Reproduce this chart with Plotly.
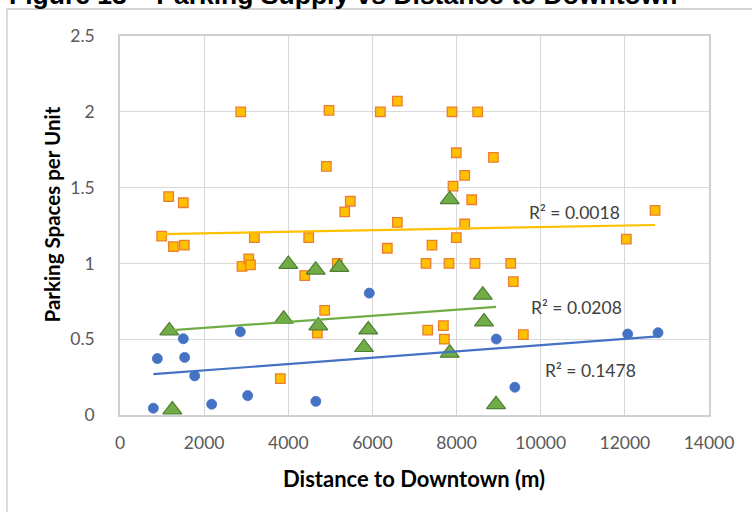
import numpy as np
import plotly.graph_objects as go

# Orange squares (yellow fill, orange outline)
orange_x = [2870, 1157, 1505, 991, 1268, 1529, 3193, 4485, 2900, 3060, 3100, 4390,
            4968, 6592, 6188, 7892, 8502, 7994, 8874, 4904, 8193, 7915, 5474, 5341,
            8360, 6592, 8193, 7994, 6354, 7416, 7274, 7820, 8438, 9287, 5165, 9349,
            12717, 12035, 4865, 4690, 7314, 7686, 7710, 9587, 3811]
orange_y = [2.00, 1.44, 1.40, 1.18, 1.11, 1.12, 1.17, 1.17, 0.98, 1.03, 0.99, 0.92,
            2.01, 2.07, 2.00, 2.00, 2.00, 1.73, 1.70, 1.64, 1.58, 1.51, 1.41, 1.34,
            1.42, 1.27, 1.26, 1.17, 1.10, 1.12, 1.00, 1.00, 1.00, 1.00, 1.00, 0.88,
            1.35, 1.16, 0.69, 0.54, 0.56, 0.59, 0.50, 0.53, 0.24]

# Blue circles
blue_x = [792, 887, 1505, 1537, 1775, 2860, 2179, 3035, 4655, 5926, 8945, 9385,
          12068, 12788]
blue_y = [0.045, 0.372, 0.503, 0.380, 0.258, 0.549, 0.071, 0.128, 0.090, 0.804,
          0.501, 0.183, 0.534, 0.543]

# Green triangles
green_x = [1172, 1244, 4001, 4651, 5213, 3891, 4714, 5902, 5800, 7837, 8622, 8652,
           8938, 7837]
green_y = [0.556, 0.034, 0.995, 0.957, 0.975, 0.633, 0.589, 0.562, 0.446, 0.409,
           0.791, 0.615, 0.069, 1.422]

# Fit statistics shown next to each trendline
r2_orange = "R² = 0.0018"
r2_green = "R² = 0.0208"
r2_blue = "R² = 0.1478"

x_ticks = [0, 2000, 4000, 6000, 8000, 10000, 12000, 14000]
y_ticks = [0, 0.5, 1, 1.5, 2, 2.5]

TICK_FONT = dict(family="Lato", size=17.5, color="#595959")
R2_FONT = dict(family="Lato", size=17.5, color="#404040")


def trend(xs, ys):
    slope, intercept = np.polyfit(xs, ys, 1)
    x0, x1 = min(xs), max(xs)
    return [x0, x1], [intercept + slope * x0, intercept + slope * x1]


fig = go.Figure()

fig.add_trace(go.Scatter(
    x=orange_x, y=orange_y, mode="markers", name="orange",
    marker=dict(symbol="square", size=9.5, color="#FFC000",
                line=dict(color="#ED7D31", width=1.3))))
fig.add_trace(go.Scatter(
    x=blue_x, y=blue_y, mode="markers", name="blue",
    marker=dict(symbol="circle", size=10, color="#4472C4",
                line=dict(color="#4472C4", width=0.8))))
fig.add_trace(go.Scatter(
    x=green_x, y=green_y, mode="markers", name="green",
    marker=dict(symbol="triangle-up", size=16.5, color="#70AD47",
                line=dict(color="#507E32", width=1.2))))

for xs, ys, col in [(orange_x, orange_y, "#FFC000"),
                    (green_x, green_y, "#70AD47"),
                    (blue_x, blue_y, "#4472C4")]:
    tx, ty = trend(xs, ys)
    fig.add_trace(go.Scatter(x=tx, y=ty, mode="lines",
                             line=dict(color=col, width=2.2),
                             hoverinfo="skip"))

annotations = [
    dict(text=r2_orange, x=10806, y=1.334, xref="x", yref="y",
         showarrow=False, font=R2_FONT),
    dict(text=r2_green, x=10851, y=0.709, xref="x", yref="y",
         showarrow=False, font=R2_FONT),
    dict(text=r2_blue, x=11172, y=0.293, xref="x", yref="y",
         showarrow=False, font=R2_FONT),
    dict(text="<b>Distance to Downtown (m)</b>", x=0.4987, y=-0.1675,
         xref="paper", yref="paper", xanchor="center", yanchor="middle",
         showarrow=False, font=dict(family="Lato", size=22, color="#000000")),
    dict(text="<b>Parking Spaces per Unit</b>", x=-0.1155, y=0.529,
         xref="paper", yref="paper", xanchor="center", yanchor="middle",
         textangle=-90, showarrow=False,
         font=dict(family="Lato", size=20.5, color="#000000")),
    dict(text="<b>Figure 13 – Parking Supply vs Distance to Downtown</b>",
         x=-0.1919, y=1.107, xref="paper", yref="paper",
         xanchor="left", yanchor="middle", showarrow=False,
         font=dict(family="Liberation Sans", size=26.5, color="#000000")),
]

fig.update_layout(
    width=752, height=512,
    margin=dict(l=120, r=43, t=36, b=97, pad=0),
    paper_bgcolor="white", plot_bgcolor="white",
    showlegend=False,
    annotations=annotations,
    shapes=[dict(type="rect", xref="paper", yref="paper",
                 x0=-0.1919, x1=1.09, y0=-0.28, y1=1.0712,
                 line=dict(color="#C8C8C8", width=1.3), fillcolor="rgba(0,0,0,0)",
                 layer="below")],
)

fig.update_xaxes(
    range=[0, 14000], tickvals=x_ticks, ticktext=[str(v) for v in x_ticks],
    showgrid=True, gridcolor="#D9D9D9", gridwidth=1.3,
    showline=True, linecolor="#D0D0D0", linewidth=1.5, mirror=True,
    zeroline=False, ticks="outside", ticklen=11, tickcolor="rgba(0,0,0,0)",
    tickfont=TICK_FONT, fixedrange=True)
fig.update_yaxes(
    range=[0, 2.5], tickvals=y_ticks, ticktext=[f"{v:g}" for v in y_ticks],
    showgrid=True, gridcolor="#D9D9D9", gridwidth=1.3,
    showline=True, linecolor="#D0D0D0", linewidth=1.5, mirror=True,
    zeroline=False, ticks="outside", ticklen=20, tickcolor="rgba(0,0,0,0)",
    tickfont=TICK_FONT, fixedrange=True)

fig.write_html("out.html")
